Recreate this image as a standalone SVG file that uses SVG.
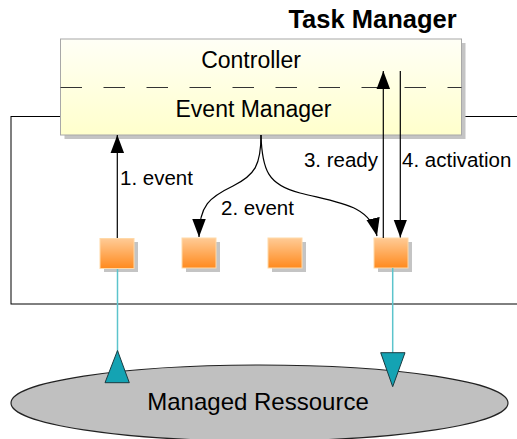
<svg xmlns="http://www.w3.org/2000/svg" width="517" height="439" viewBox="0 0 517 439">
<style>
text{font-family:"Liberation Sans",Arial,sans-serif;fill:#000}
.lbl{font-size:20.5px}
.big{font-size:23px}
.sq{fill:url(#og);stroke:#FFD9A8;stroke-width:1}
.sh{fill:#C4C4C4}
.conn{fill:none;stroke:#000;stroke-width:1.2}
.teal{fill:none;stroke:#5CC4CC;stroke-width:1.5}
.tri{fill:#14A3B3;stroke:#1A3A40;stroke-width:1}
</style>
<defs>
<linearGradient id="yg" x1="0" y1="0" x2="0" y2="1">
<stop offset="0" stop-color="#FFFFF6"/>
<stop offset="1" stop-color="#FFFFCC"/>
</linearGradient>
<linearGradient id="og" x1="0" y1="0" x2="0" y2="1">
<stop offset="0" stop-color="#FFCB96"/>
<stop offset="1" stop-color="#FF8A1E"/>
</linearGradient>
<marker id="ah" markerUnits="userSpaceOnUse" markerWidth="18" markerHeight="14" viewBox="0 0 16 12" refX="16" refY="6" orient="auto">
<path d="M0,0 L16,6 L0,12 Z" fill="#000"/>
</marker>
</defs>
<g id="outer">
<rect x="11" y="116.5" width="520" height="187.5" fill="#fff" stroke="#000" stroke-width="1"/>
</g>
<g id="task-manager">
<text x="372.5" y="28" font-size="25.5" font-weight="bold" text-anchor="middle">Task Manager</text>
<rect x="64.5" y="43" width="401" height="96" fill="#C4C4C4"/>
<rect x="60.5" y="39" width="401" height="96" fill="url(#yg)" stroke="#A8A8A8" stroke-width="1"/>
<line x1="60.5" y1="87.5" x2="461.5" y2="87.5" stroke="#333" stroke-width="1" stroke-dasharray="21.5 21.5"/>
<text class="big" x="251" y="68" text-anchor="middle">Controller</text>
<text class="big" x="253.5" y="117" text-anchor="middle">Event Manager</text>
</g>
<g id="task1">
<rect class="sh" x="104" y="242" width="34" height="30"/>
<rect class="sq" x="100" y="238.5" width="34" height="30"/>
</g>
<g id="task2">
<rect class="sh" x="186" y="242" width="34" height="30"/>
<rect class="sq" x="182" y="238" width="34" height="30"/>
</g>
<g id="task3">
<rect class="sh" x="272" y="242" width="34" height="30"/>
<rect class="sq" x="268" y="238" width="34" height="30"/>
</g>
<g id="task4">
<rect class="sh" x="378" y="242" width="34" height="30"/>
<rect class="sq" x="374" y="238" width="34" height="30"/>
</g>
<g id="resource">
<ellipse cx="259.5" cy="403" rx="248.5" ry="38" fill="#C0C0C0" stroke="#222" stroke-width="1.2"/>
<text x="258" y="410" text-anchor="middle" font-size="24">Managed Ressource</text>
</g>
<g id="connectors">
<line class="conn" x1="117.3" y1="238" x2="117.3" y2="135" marker-end="url(#ah)"/>
<path class="conn" d="M261,135 C261,165 255,175 233,186 C210,197 199,205 199,237" marker-end="url(#ah)"/>
<path class="conn" d="M261,135 C262,170 268,185 300,193 C340,203 370,205 377,236" marker-end="url(#ah)"/>
<line class="conn" x1="383.3" y1="238" x2="383.3" y2="71" marker-end="url(#ah)"/>
<line class="conn" x1="400.3" y1="71" x2="400.3" y2="237.5" marker-end="url(#ah)"/>
<line class="teal" x1="117.5" y1="269" x2="117.5" y2="352"/>
<path class="tri" d="M117.5,350.5 L129.3,382.7 L105,382.7 Z"/>
<line class="teal" x1="392.7" y1="268" x2="392.7" y2="353"/>
<path class="tri" d="M380.7,352.7 L405,352.7 L392.7,386.7 Z"/>
<text class="lbl" x="120" y="185">1. event</text>
<text class="lbl" x="221" y="215">2. event</text>
<text class="lbl" x="378" y="166.7" text-anchor="end">3. ready</text>
<text class="lbl" x="402" y="166.7">4. activation</text>
</g>
</svg>
